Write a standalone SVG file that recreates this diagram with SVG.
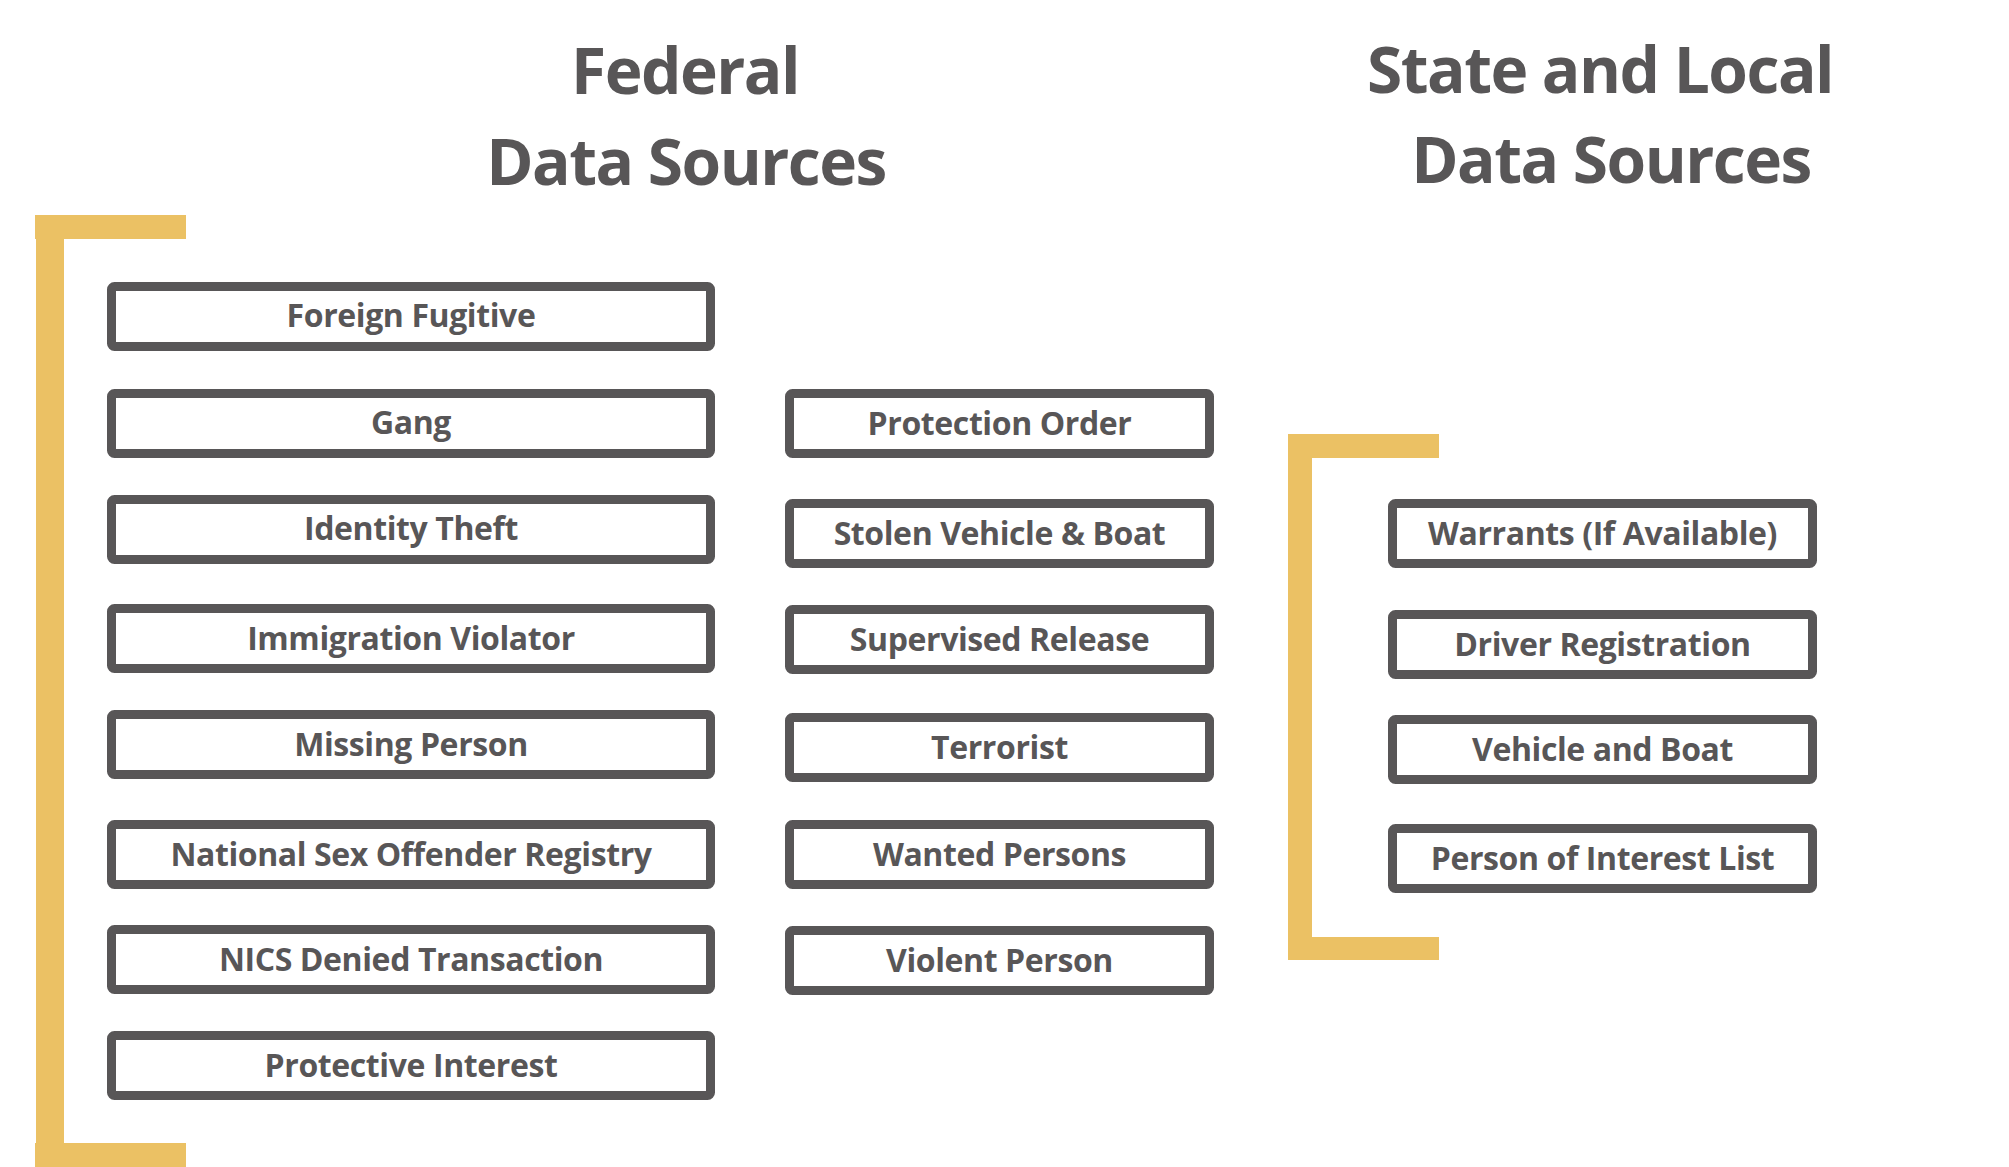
<svg xmlns="http://www.w3.org/2000/svg" width="2009" height="1167" viewBox="0 0 2009 1167">
<style>
.bg{fill:#ffffff}
.br{fill:#EBC164}
.box{fill:#ffffff;stroke:#585657;stroke-width:9}
.t{font-family:"Open Sans","Liberation Sans",sans-serif;font-weight:700;font-size:32px;letter-spacing:-0.4px;fill:#585657;text-anchor:middle}
.h{font-family:"Open Sans","Liberation Sans",sans-serif;font-weight:700;font-size:64px;letter-spacing:-1.5px;fill:#585657;text-anchor:middle}
</style>
<rect class="bg" x="0" y="0" width="2009" height="1167"/>
<g id="titles">
<text class="h" x="685" y="94">Federal</text>
<text class="h" x="686" y="185">Data Sources</text>
<text class="h" x="1600" y="93">State and Local</text>
<text class="h" x="1611" y="183">Data Sources</text>
</g>
<g id="connectors">
<g id="bracket-federal">
<rect class="br" x="35" y="215" width="151" height="24"/>
<rect class="br" x="36" y="215" width="28" height="952"/>
<rect class="br" x="35" y="1143" width="151" height="24"/>
</g>
<g id="bracket-state">
<rect class="br" x="1288" y="434" width="151" height="24"/>
<rect class="br" x="1288" y="434" width="24" height="526"/>
<rect class="br" x="1288" y="937" width="151" height="23"/>
</g>
</g>
<g id="n-foreign"><rect class="box" x="111.5" y="286.5" width="599" height="60" rx="3"/><text class="t" x="411" y="327">Foreign Fugitive</text></g>
<g id="n-gang"><rect class="box" x="111.5" y="393.5" width="599" height="60" rx="3"/><text class="t" x="411" y="434">Gang</text></g>
<g id="n-identity"><rect class="box" x="111.5" y="499.5" width="599" height="60" rx="3"/><text class="t" x="411" y="540">Identity Theft</text></g>
<g id="n-immigration"><rect class="box" x="111.5" y="608.5" width="599" height="60" rx="3"/><text class="t" x="411" y="650">Immigration Violator</text></g>
<g id="n-missing"><rect class="box" x="111.5" y="714.5" width="599" height="60" rx="3"/><text class="t" x="411" y="756">Missing Person</text></g>
<g id="n-sexoffender"><rect class="box" x="111.5" y="824.5" width="599" height="60" rx="3"/><text class="t" x="411" y="866">National Sex Offender Registry</text></g>
<g id="n-nics"><rect class="box" x="111.5" y="929.5" width="599" height="60" rx="3"/><text class="t" x="411" y="971">NICS Denied Transaction</text></g>
<g id="n-protective"><rect class="box" x="111.5" y="1035.5" width="599" height="60" rx="3"/><text class="t" x="411" y="1077">Protective Interest</text></g>
<g id="n-protection"><rect class="box" x="789.5" y="393.5" width="420" height="60" rx="3"/><text class="t" x="999.5" y="435">Protection Order</text></g>
<g id="n-stolen"><rect class="box" x="789.5" y="503.5" width="420" height="60" rx="3"/><text class="t" x="999.5" y="545">Stolen Vehicle &amp; Boat</text></g>
<g id="n-supervised"><rect class="box" x="789.5" y="609.5" width="420" height="60" rx="3"/><text class="t" x="999.5" y="651">Supervised Release</text></g>
<g id="n-terrorist"><rect class="box" x="789.5" y="717.5" width="420" height="60" rx="3"/><text class="t" x="999.5" y="759">Terrorist</text></g>
<g id="n-wanted"><rect class="box" x="789.5" y="824.5" width="420" height="60" rx="3"/><text class="t" x="999.5" y="866">Wanted Persons</text></g>
<g id="n-violent"><rect class="box" x="789.5" y="930.5" width="420" height="60" rx="3"/><text class="t" x="999.5" y="972">Violent Person</text></g>
<g id="n-warrants"><rect class="box" x="1392.5" y="503.5" width="420" height="60" rx="3"/><text class="t" x="1602.5" y="545">Warrants (If Available)</text></g>
<g id="n-driver"><rect class="box" x="1392.5" y="614.5" width="420" height="60" rx="3"/><text class="t" x="1602.5" y="656">Driver Registration</text></g>
<g id="n-vehicle"><rect class="box" x="1392.5" y="719.5" width="420" height="60" rx="3"/><text class="t" x="1602.5" y="761">Vehicle and Boat</text></g>
<g id="n-person"><rect class="box" x="1392.5" y="828.5" width="420" height="60" rx="3"/><text class="t" x="1602.5" y="870">Person of Interest List</text></g>
</svg>
